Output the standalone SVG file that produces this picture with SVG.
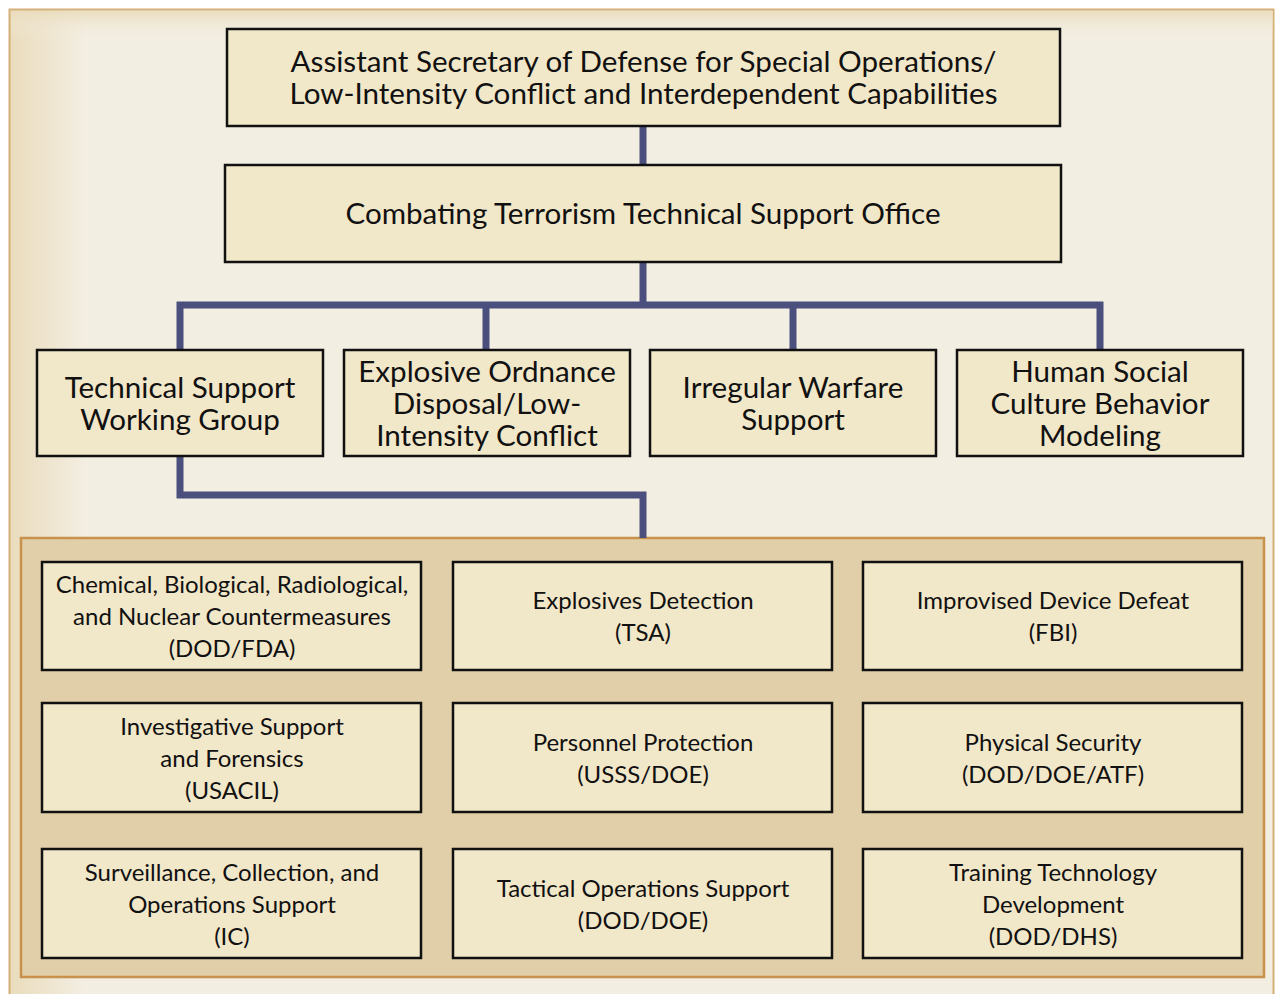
<svg xmlns="http://www.w3.org/2000/svg" width="1277" height="994" viewBox="0 0 1277 994">
<style>
.box{fill:#f1e7c9;stroke:#111;stroke-width:2.5}
.t1{font-family:Lato,"Open Sans",sans-serif;font-size:29.6px;fill:#111;text-anchor:middle}
.t2{font-family:Lato,"Open Sans",sans-serif;font-size:24px;fill:#111;text-anchor:middle}
.conn{fill:none;stroke:#4a4f7d;stroke-width:7;stroke-linejoin:miter}
</style>
<defs>
<linearGradient id="lg" x1="0" y1="0" x2="1" y2="0">
<stop offset="0" stop-color="#eadcbc"/><stop offset="0.06" stop-color="#f3eee2"/><stop offset="1" stop-color="#f3eee2"/>
</linearGradient>
<linearGradient id="tg" x1="0" y1="0" x2="0" y2="1">
<stop offset="0" stop-color="#eadcbc" stop-opacity="0.9"/><stop offset="1" stop-color="#f3eee2" stop-opacity="0"/>
</linearGradient>
</defs>
<rect x="0" y="0" width="1277" height="994" fill="#ffffff"/>
<rect x="9.5" y="9.5" width="1264" height="990" fill="url(#lg)" stroke="#d4b078" stroke-width="2"/>
<rect x="11" y="11" width="1262" height="30" fill="url(#tg)"/>
<rect x="21" y="538" width="1243" height="439" fill="#e0cfa8" stroke="#c8914c" stroke-width="2.5"/>
<g id="connectors">
<path class="conn" d="M643 126V165M643 262V305M180 353V305H1100V353M486 305V353M793 305V353M180 456V495H643V538"/>
</g>
<g id="n-asd"><rect class="box" x="227" y="29" width="833" height="97"/><text class="t1" x="643.5" y="72">Assistant Secretary of Defense for Special Operations/</text><text class="t1" x="643.5" y="104">Low-Intensity Conflict and Interdependent Capabilities</text></g>
<g id="n-cttso"><rect class="box" x="225" y="165" width="836" height="97"/><text class="t1" x="643" y="224">Combating Terrorism Technical Support Office</text></g>
<g id="n-tswg"><rect class="box" x="37" y="350" width="286" height="106"/><text class="t1" x="180" y="398">Technical Support</text><text class="t1" x="180" y="430">Working Group</text></g>
<g id="n-eod"><rect class="box" x="344" y="350" width="286" height="106"/><text class="t1" x="487" y="382">Explosive Ordnance</text><text class="t1" x="487" y="414">Disposal/Low-</text><text class="t1" x="487" y="446">Intensity Conflict</text></g>
<g id="n-iws"><rect class="box" x="650" y="350" width="286" height="106"/><text class="t1" x="793" y="398">Irregular Warfare</text><text class="t1" x="793" y="430">Support</text></g>
<g id="n-hscb"><rect class="box" x="957" y="350" width="286" height="106"/><text class="t1" x="1100" y="382">Human Social</text><text class="t1" x="1100" y="414">Culture Behavior</text><text class="t1" x="1100" y="446">Modeling</text></g>
<g id="n-cbrn"><rect class="box" x="42" y="562" width="379" height="108"/><text class="t2" x="232" y="593">Chemical, Biological, Radiological,</text><text class="t2" x="232" y="625">and Nuclear Countermeasures</text><text class="t2" x="232" y="657">(DOD/FDA)</text></g>
<g id="n-ed"><rect class="box" x="453" y="562" width="379" height="108"/><text class="t2" x="643" y="609">Explosives Detection</text><text class="t2" x="643" y="641">(TSA)</text></g>
<g id="n-idd"><rect class="box" x="863" y="562" width="379" height="108"/><text class="t2" x="1053" y="609">Improvised Device Defeat</text><text class="t2" x="1053" y="641">(FBI)</text></g>
<g id="n-isf"><rect class="box" x="42" y="703" width="379" height="109"/><text class="t2" x="232" y="735">Investigative Support</text><text class="t2" x="232" y="767">and Forensics</text><text class="t2" x="232" y="799">(USACIL)</text></g>
<g id="n-pp"><rect class="box" x="453" y="703" width="379" height="109"/><text class="t2" x="643" y="751">Personnel Protection</text><text class="t2" x="643" y="783">(USSS/DOE)</text></g>
<g id="n-ps"><rect class="box" x="863" y="703" width="379" height="109"/><text class="t2" x="1053" y="751">Physical Security</text><text class="t2" x="1053" y="783">(DOD/DOE/ATF)</text></g>
<g id="n-scos"><rect class="box" x="42" y="849" width="379" height="109"/><text class="t2" x="232" y="881">Surveillance, Collection, and</text><text class="t2" x="232" y="913">Operations Support</text><text class="t2" x="232" y="945">(IC)</text></g>
<g id="n-tos"><rect class="box" x="453" y="849" width="379" height="109"/><text class="t2" x="643" y="897">Tactical Operations Support</text><text class="t2" x="643" y="929">(DOD/DOE)</text></g>
<g id="n-ttd"><rect class="box" x="863" y="849" width="379" height="109"/><text class="t2" x="1053" y="881">Training Technology</text><text class="t2" x="1053" y="913">Development</text><text class="t2" x="1053" y="945">(DOD/DHS)</text></g>
</svg>
